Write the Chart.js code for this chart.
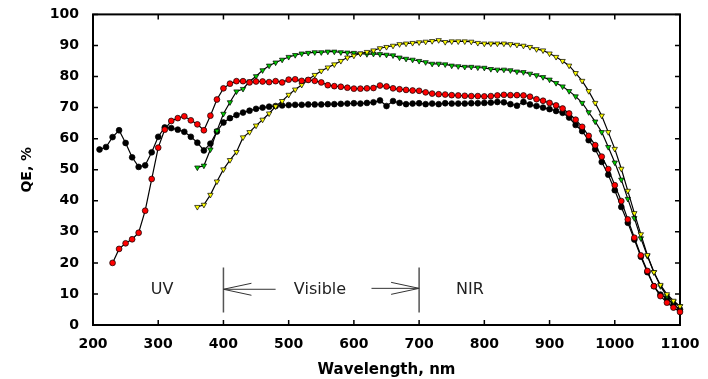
<!DOCTYPE html>
<html>
<head>
<meta charset="utf-8">
<script src="https://cdn.jsdelivr.net/npm/chart.js@4.4.1/dist/chart.umd.min.js"></script>
<style>
  html, body { margin: 0; padding: 0; background: #fff; }
  canvas { display: block; }
</style>
</head>
<body>
<canvas id="qe" width="708" height="379"></canvas>
<script>
// wavelength grid shared by all four curves, nm
const WAVELENGTH = [
  210, 220, 230, 240, 250, 260, 270, 280, 290, 300,
  310, 320, 330, 340, 350, 360, 370, 380, 390, 400,
  410, 420, 430, 440, 450, 460, 470, 480, 490, 500,
  510, 520, 530, 540, 550, 560, 570, 580, 590, 600,
  610, 620, 630, 640, 650, 660, 670, 680, 690, 700,
  710, 720, 730, 740, 750, 760, 770, 780, 790, 800,
  810, 820, 830, 840, 850, 860, 870, 880, 890, 900,
  910, 920, 930, 940, 950, 960, 970, 980, 990, 1000,
  1010, 1020, 1030, 1040, 1050, 1060, 1070, 1080, 1090, 1100,
];

// QE, % (null = not measured)
const BLACK_QE = [
  56.5, 57.3, 60.5, 62.7, 58.6, 54.0, 50.9, 51.4, 55.6, 60.6,
  63.6, 63.4, 62.9, 62.2, 60.6, 58.7, 56.2, 58.4, 62.3, 65.2,
  66.6, 67.6, 68.4, 69.0, 69.6, 70.0, 70.3, 70.5, 70.7, 70.8,
  70.9, 70.9, 71.0, 71.0, 71.0, 71.1, 71.1, 71.2, 71.3, 71.4,
  71.3, 71.5, 71.7, 72.3, 70.5, 72.1, 71.5, 71.1, 71.3, 71.4,
  71.1, 71.3, 71.1, 71.4, 71.3, 71.3, 71.3, 71.4, 71.4, 71.5,
  71.6, 71.8, 71.7, 71.1, 70.6, 71.8, 71.0, 70.5, 70.0, 69.5,
  68.9, 68.3, 66.8, 64.4, 62.4, 59.5, 56.6, 52.5, 48.4, 43.4,
  38.0, 32.9, 27.5, 22.0, 17.0, 12.5, 9.8, 8.6, 6.6, 5.0,
];

const RED_QE = [
  null, null, 20.0, 24.5, 26.3, 27.6, 29.7, 36.8, 47.0, 57.1,
  62.9, 65.7, 66.6, 67.2, 65.9, 64.6, 62.7, 67.4, 72.6, 76.2,
  77.7, 78.5, 78.5, 78.1, 78.4, 78.4, 78.2, 78.5, 78.1, 79.0,
  79.1, 78.6, 78.9, 78.6, 78.1, 77.2, 76.9, 76.7, 76.4, 76.1,
  76.1, 76.2, 76.3, 77.1, 76.8, 76.2, 75.9, 75.7, 75.5, 75.4,
  74.9, 74.5, 74.3, 74.2, 74.0, 73.9, 73.8, 73.7, 73.7, 73.6,
  73.7, 73.9, 74.1, 74.0, 74.0, 73.9, 73.5, 72.7, 72.2, 71.5,
  70.7, 69.7, 68.1, 66.1, 63.8, 60.9, 57.9, 54.2, 50.2, 45.0,
  39.9, 34.0, 28.1, 22.4, 17.4, 12.5, 9.3, 7.2, 5.6, 4.2,
];

const GREEN_QE = [
  null, null, null, null, null, null, null, null, null, null,
  null, null, null, null, null, 50.7, 51.3, 56.5, 62.5, 68.0,
  71.7, 75.2, 76.0, 78.4, 80.1, 82.0, 83.5, 84.5, 85.4, 86.3,
  86.9, 87.4, 87.6, 87.8, 87.8, 88.0, 88.0, 87.8, 87.7, 87.6,
  87.4, 87.2, 87.3, 87.2, 87.0, 86.8, 86.1, 85.7, 85.4, 85.0,
  84.6, 84.1, 84.1, 83.9, 83.5, 83.3, 83.1, 83.1, 82.9, 82.8,
  82.4, 82.2, 82.2, 82.0, 81.6, 81.4, 80.9, 80.4, 79.8, 79.0,
  77.9, 76.8, 75.3, 73.6, 71.5, 68.5, 65.5, 62.1, 57.3, 52.3,
  46.8, 40.6, 34.4, 27.9, 22.2, 17.0, 12.5, 9.3, 7.5, 6.1,
];

const YELLOW_QE = [
  null, null, null, null, null, null, null, null, null, null,
  null, null, null, null, null, 38.0, 38.7, 41.9, 46.2, 50.1,
  53.1, 55.7, 60.4, 62.1, 64.2, 66.1, 68.1, 70.4, 72.1, 74.1,
  75.8, 77.3, 79.0, 80.5, 81.8, 82.9, 83.9, 85.0, 86.1, 86.7,
  87.4, 87.9, 88.4, 89.1, 89.5, 89.9, 90.4, 90.6, 90.8, 91.0,
  91.2, 91.4, 91.7, 91.1, 91.3, 91.3, 91.3, 91.2, 90.8, 90.6,
  90.6, 90.6, 90.6, 90.4, 90.2, 89.9, 89.5, 88.8, 88.4, 87.4,
  86.3, 85.0, 83.5, 81.1, 78.6, 75.3, 71.5, 67.4, 62.1, 56.7,
  50.3, 43.2, 36.0, 29.2, 22.5, 17.0, 12.9, 9.9, 7.8, 6.0,
];

// spectral regions marked under the curves
const REGION_NAMES = ['UV', 'Visible', 'NIR'];
const REGION_NAME_NM = [306, 548, 778];
const REGION_NAME_QE = 11.2;
const REGION_BOUNDS_NM = [400, 700];
const BOUND_QE = [4, 18.5];
// arrows: [from nm, to nm, qe]
const ARROWS = [[480, 400, 11.5], [627, 700, 11.8]];

const FONT = '"DejaVu Sans", "Liberation Sans", sans-serif';
Chart.defaults.font.family = FONT;
Chart.defaults.color = '#000';

function points(values) {
  return WAVELENGTH.map((x, i) => ({ x, y: values[i] })).filter((p) => p.y !== null);
}

// frame with inward ticks on all four sides
const frameTicks = {
  id: 'frameTicks',
  beforeDatasetsDraw(chart) {
    const { ctx, chartArea: a, scales: { x, y } } = chart;
    const len = 5;
    ctx.save();
    ctx.strokeStyle = '#000';
    ctx.lineWidth = 1.5;
    ctx.beginPath();
    for (const t of x.ticks) {
      const px = x.getPixelForValue(t.value);
      ctx.moveTo(px, a.bottom); ctx.lineTo(px, a.bottom - len);
      ctx.moveTo(px, a.top); ctx.lineTo(px, a.top + len);
    }
    for (const t of y.ticks) {
      const py = y.getPixelForValue(t.value);
      ctx.moveTo(a.left, py); ctx.lineTo(a.left + len, py);
      ctx.moveTo(a.right, py); ctx.lineTo(a.right - len, py);
    }
    ctx.stroke();
    ctx.lineWidth = 2;
    ctx.strokeRect(a.left, a.top, a.right - a.left, a.bottom - a.top);
    ctx.restore();
  },
};

// UV / Visible / NIR marks
const regions = {
  id: 'regions',
  beforeDatasetsDraw(chart) {
    const { ctx, scales: { x, y } } = chart;
    ctx.save();
    ctx.strokeStyle = '#555';
    ctx.lineWidth = 1.5;
    ctx.beginPath();
    for (const b of REGION_BOUNDS_NM) {
      ctx.moveTo(x.getPixelForValue(b), y.getPixelForValue(BOUND_QE[0]));
      ctx.lineTo(x.getPixelForValue(b), y.getPixelForValue(BOUND_QE[1]));
    }
    ctx.stroke();

    ctx.strokeStyle = '#333';
    ctx.lineWidth = 1;
    ctx.beginPath();
    for (const [from, to, qe] of ARROWS) {
      const x0 = x.getPixelForValue(from);
      const x1 = x.getPixelForValue(to);
      const py = y.getPixelForValue(qe);
      const dir = Math.sign(x0 - x1);
      ctx.moveTo(x0, py); ctx.lineTo(x1, py);
      ctx.moveTo(x1 + dir * 28, py - 6); ctx.lineTo(x1, py); ctx.lineTo(x1 + dir * 28, py + 6);
    }
    ctx.stroke();

    ctx.fillStyle = '#222';
    ctx.font = '16px ' + FONT;
    ctx.textAlign = 'center';
    ctx.textBaseline = 'middle';
    REGION_NAMES.forEach((name, i) => {
      ctx.fillText(name, x.getPixelForValue(REGION_NAME_NM[i]), y.getPixelForValue(REGION_NAME_QE));
    });
    ctx.restore();
  },
};

function series(values, fill, style) {
  return {
    data: points(values),
    borderColor: '#000',
    borderWidth: 1.2,
    pointStyle: style,
    pointRotation: style === 'triangle' ? 180 : 0,
    pointRadius: style === 'triangle' ? 3.1 : 2.9,
    pointBorderWidth: 0.7,
    pointBorderColor: '#000',
    pointBackgroundColor: fill,
    tension: 0,
    clip: false,
  };
}

new Chart(document.getElementById('qe'), {
  type: 'line',
  data: {
    datasets: [
      series(RED_QE, '#ff0000', 'circle'),
      series(YELLOW_QE, '#ffff00', 'triangle'),
      series(GREEN_QE, '#00cc00', 'triangle'),
      series(BLACK_QE, '#000000', 'circle'),
    ],
  },
  options: {
    responsive: false,
    animation: false,
    layout: { padding: { left: 0, right: 28, top: 14, bottom: 0 } },
    plugins: { legend: { display: false }, tooltip: { enabled: false } },
    scales: {
      x: {
        type: 'linear',
        min: 200,
        max: 1100,
        grid: { display: false },
        border: { display: false },
        ticks: {
          stepSize: 100, padding: 3, maxRotation: 0,
          font: { size: 14, weight: 'bold' },
          callback: (v) => String(v),
        },
        title: { display: true, text: 'Wavelength, nm', font: { size: 15, weight: 'bold' }, padding: 0 },
        afterFit: (s) => { s.height = 54; },
      },
      y: {
        min: 0,
        max: 100,
        grid: { display: false },
        border: { display: false },
        ticks: {
          stepSize: 10, padding: 6,
          font: { size: 14, weight: 'bold' },
          callback: (v) => String(v),
        },
        title: { display: true, text: 'QE, %', font: { size: 14, weight: 'bold' }, padding: { top: 19, bottom: 0 } },
        afterFit: (s) => { s.width = 93; },
      },
    },
  },
  plugins: [frameTicks, regions],
});
</script>
</body>
</html>
